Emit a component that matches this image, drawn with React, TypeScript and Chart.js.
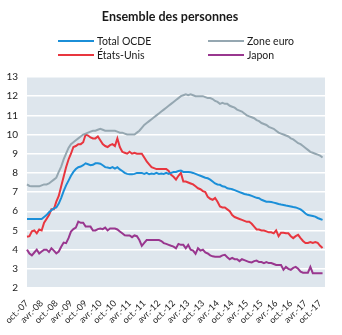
import React, { useEffect, useRef } from "react";
import { Chart, registerables } from "chart.js";

Chart.register(...registerables);

const TITLE = "Ensemble des personnes";

const MONTH_NAMES = ["janv.", "févr.", "mars", "avr.", "mai", "juin", "juil.", "août", "sept.", "oct.", "nov.", "déc."];

const TICK_LABELS = [
  "oct.-07", "avr.-08", "oct.-08", "avr.-09", "oct.-09", "avr.-10", "oct.-10",
  "avr.-11", "oct.-11", "avr.-12", "oct.-12", "avr.-13", "oct.-13", "avr.-14",
  "oct.-14", "avr.-15", "oct.-15", "avr.-16", "oct.-16", "avr.-17", "oct.-17",
];

// Monthly observations, oct. 2007 -> nov. 2017
const ZONE_EURO = [
  7.4, 7.32, 7.3,
  7.3, 7.3, 7.3, 7.35, 7.4, 7.4, 7.45, 7.55, 7.65, 7.75, 8.05, 8.33,
  8.7, 9.0, 9.3, 9.5, 9.6, 9.7, 9.8, 9.9, 10.0, 10.05, 10.1, 10.15,
  10.2, 10.2, 10.25, 10.3, 10.25, 10.2, 10.2, 10.2, 10.2, 10.2, 10.15, 10.1,
  10.1, 10.05, 10.0, 10.0, 10.0, 10.0, 10.1, 10.2, 10.35, 10.5, 10.6, 10.7,
  10.8, 10.9, 11.0, 11.1, 11.2, 11.3, 11.4, 11.5, 11.6, 11.7, 11.8, 11.9,
  12.0, 12.05, 12.1, 12.05, 12.1, 12.05, 12.0, 12.0, 12.0, 12.0, 11.95, 11.9,
  11.9, 11.85, 11.75, 11.7, 11.6, 11.65, 11.6, 11.6, 11.5, 11.45, 11.4, 11.3,
  11.25, 11.2, 11.1, 11.0, 10.95, 10.9, 10.85, 10.75, 10.7, 10.6, 10.55, 10.5,
  10.4, 10.35, 10.3, 10.2, 10.1, 10.05, 10.0, 9.95, 9.9, 9.8, 9.75, 9.65,
  9.55, 9.5, 9.4, 9.3, 9.2, 9.1, 9.05, 9.0, 8.95, 8.9, 8.8,
];

const TOTAL_OCDE = [
  5.6, 5.6, 5.6,
  5.6, 5.6, 5.6, 5.6, 5.7, 5.8, 5.95, 6.05, 6.15, 6.2, 6.4, 6.7,
  7.05, 7.35, 7.6, 7.85, 8.05, 8.2, 8.3, 8.33, 8.4, 8.5, 8.45, 8.4,
  8.42, 8.5, 8.5, 8.48, 8.4, 8.3, 8.28, 8.25, 8.3, 8.22, 8.3, 8.18,
  8.1, 8.0, 7.95, 7.93, 7.93, 7.95, 8.0, 8.0, 8.0, 7.95, 8.0, 7.93,
  7.97, 7.95, 8.0, 7.95, 7.97, 7.95, 8.0, 7.95, 8.0, 8.05, 8.05, 8.1,
  8.12, 8.05, 8.05, 8.05, 8.03, 8.0, 7.95, 7.9, 7.85, 7.8, 7.75, 7.72,
  7.65, 7.55, 7.45, 7.4, 7.38, 7.3, 7.28, 7.2, 7.18, 7.15, 7.1, 7.05,
  7.0, 6.95, 6.9, 6.87, 6.85, 6.8, 6.75, 6.7, 6.68, 6.6, 6.55, 6.5,
  6.5, 6.48, 6.45, 6.42, 6.38, 6.35, 6.33, 6.3, 6.28, 6.25, 6.22, 6.2,
  6.15, 6.1, 6.0, 5.88, 5.8, 5.78, 5.75, 5.72, 5.65, 5.6, 5.55,
];

const ETATS_UNIS = [
  4.67, 4.7, 4.95,
  5.0, 4.85, 5.05, 5.0, 5.4, 5.6, 5.8, 6.1, 6.1, 6.5, 6.8, 7.3,
  7.8, 8.3, 8.7, 9.0, 9.35, 9.4, 9.5, 9.5, 9.6, 10.0, 9.95, 9.85,
  9.8, 9.8, 9.9, 9.7, 9.5, 9.4, 9.35, 9.45, 9.5, 9.4, 9.8, 9.35,
  9.1, 9.05, 9.0, 9.1, 9.0, 9.05, 9.0, 9.0, 9.0, 8.8, 8.6, 8.45,
  8.3, 8.25, 8.2, 8.2, 8.2, 8.2, 8.2, 8.1, 7.9, 7.8, 7.65, 7.85,
  8.0, 7.55, 7.55, 7.5, 7.45, 7.4, 7.3, 7.2, 7.15, 7.05, 7.0, 6.75,
  6.65, 6.6, 6.7, 6.5, 6.25, 6.2, 6.2, 6.1, 6.0, 5.8, 5.7, 5.65,
  5.6, 5.55, 5.5, 5.45, 5.45, 5.35, 5.2, 5.05, 5.05, 5.0, 5.0, 4.95,
  4.9, 4.9, 4.85, 5.0, 4.7, 4.88, 4.88, 4.85, 4.85, 4.7, 4.6, 4.7,
  4.77, 4.6, 4.45, 4.35, 4.35, 4.4, 4.35, 4.4, 4.35, 4.2, 4.08,
];

const JAPON = [
  4.0, 3.8, 3.7,
  3.85, 4.0, 3.8, 3.9, 4.0, 4.0, 3.88, 4.07, 3.95, 3.8, 3.9, 4.15,
  4.37, 4.34, 4.6, 4.94, 5.07, 5.15, 5.46, 5.4, 5.4, 5.2, 5.2, 5.2,
  5.0, 5.0, 5.07, 5.1, 5.07, 5.15, 5.0, 5.1, 5.1, 5.1, 5.05, 4.95,
  4.85, 4.75, 4.74, 4.74, 4.65, 4.74, 4.7, 4.5, 4.2, 4.35, 4.5, 4.5,
  4.5, 4.5, 4.5, 4.5, 4.45, 4.34, 4.3, 4.25, 4.2, 4.16, 4.07, 4.3,
  4.25, 4.25, 4.07, 4.25, 4.0, 3.95, 3.78, 4.07, 3.95, 4.0, 3.85, 3.8,
  3.7, 3.65, 3.63, 3.63, 3.63, 3.7, 3.73, 3.6, 3.5, 3.57, 3.5, 3.5,
  3.4, 3.5, 3.45, 3.4, 3.35, 3.33, 3.4, 3.43, 3.35, 3.35, 3.3, 3.35,
  3.3, 3.3, 3.25, 3.2, 3.2, 3.2, 2.95, 3.1, 3.0, 2.95, 3.05, 3.1,
  3.0, 2.85, 2.8, 2.8, 2.8, 3.1, 2.77, 2.77, 2.77, 2.77, 2.77,
];

const SERIES_NAMES = ["Total OCDE", "Zone euro", "États-Unis", "Japon"];
const COLORS = ["#1b8fd8", "#95a7b1", "#e8363f", "#99378f"];

// categories: oct. 2007 .. déc. 2017 (last one empty)
const CATEGORIES: string[] = [];
for (let k = 0; k < 123; k++) {
  const m = (9 + k) % 12;
  const y = 2007 + Math.floor((9 + k) / 12);
  CATEGORIES.push(MONTH_NAMES[m] + "-" + String(y).slice(2));
}

const FONT = "Lato, 'Open Sans', sans-serif";

export default function App() {
  const ref = useRef<HTMLCanvasElement | null>(null);

  useEffect(() => {
    if (!ref.current) return;

    const bgPlugin = {
      id: "bgPlugin",
      beforeDraw(chart: any) {
        const { ctx, chartArea } = chart;
        ctx.save();
        ctx.fillStyle = "#dee6ed";
        ctx.fillRect(chartArea.left, chartArea.top, chartArea.right - chartArea.left, chartArea.bottom - chartArea.top);
        ctx.restore();
      },
      afterDraw(chart: any) {
        const { ctx } = chart;
        ctx.save();
        ctx.fillStyle = "#1a1a1a";
        ctx.font = "bold 12.5px " + FONT;
        ctx.textAlign = "center";
        ctx.textBaseline = "middle";
        ctx.fillText(TITLE, 170, 17);

        ctx.font = "10.5px " + FONT;
        ctx.textAlign = "left";
        const cols = [58, 208];
        const rows = [41, 55];
        SERIES_NAMES.forEach((name, i) => {
          const x = cols[i % 2];
          const y = rows[Math.floor(i / 2)];
          ctx.strokeStyle = COLORS[i];
          ctx.lineWidth = 2;
          ctx.beginPath();
          ctx.moveTo(x, y);
          ctx.lineTo(x + 36, y);
          ctx.stroke();
          ctx.fillStyle = "#1a1a1a";
          ctx.fillText(name, x + 39, y + 0.5);
        });
        ctx.restore();
      },
    };

    const values = [TOTAL_OCDE, ZONE_EURO, ETATS_UNIS, JAPON];

    const chart = new Chart(ref.current, {
      type: "line",
      data: {
        labels: CATEGORIES,
        datasets: SERIES_NAMES.map((name, i) => ({
          label: name,
          data: values[i],
          borderColor: COLORS[i],
          backgroundColor: COLORS[i],
          borderWidth: 2,
          pointRadius: 0,
          tension: 0,
          fill: false,
        })),
      },
      options: {
        animation: false,
        responsive: false,
        layout: { padding: { top: 77, right: 17, left: 0, bottom: 0 } },
        plugins: {
          legend: { display: false },
          title: { display: false },
          tooltip: { enabled: false },
        },
        scales: {
          x: {
            grid: { display: false },
            border: { display: false },
            ticks: {
              autoSkip: false,
              minRotation: 45,
              maxRotation: 45,
              padding: 2,
              color: "#222",
              font: { family: FONT, size: 9 },
              callback: (_v: any, index: number) => (index % 6 === 0 ? TICK_LABELS[index / 6] ?? "" : ""),
            },
            afterFit: (scale: any) => {
              scale.height = 47;
            },
          },
          y: {
            min: 2,
            max: 13,
            grid: { color: "#ffffff", lineWidth: 1.5, drawTicks: false },
            border: { display: false },
            ticks: {
              stepSize: 1,
              padding: 9,
              color: "#222",
              font: { family: FONT, size: 10 },
            },
            afterFit: (scale: any) => {
              scale.width = 27;
            },
          },
        },
      },
      plugins: [bgPlugin],
    });

    return () => chart.destroy();
  }, []);

  return (
    <div style={{ position: "absolute", left: 0, top: 0, width: 342, height: 335, background: "#fff" }}>
      <canvas ref={ref} width={342} height={335} />
    </div>
  );
}
